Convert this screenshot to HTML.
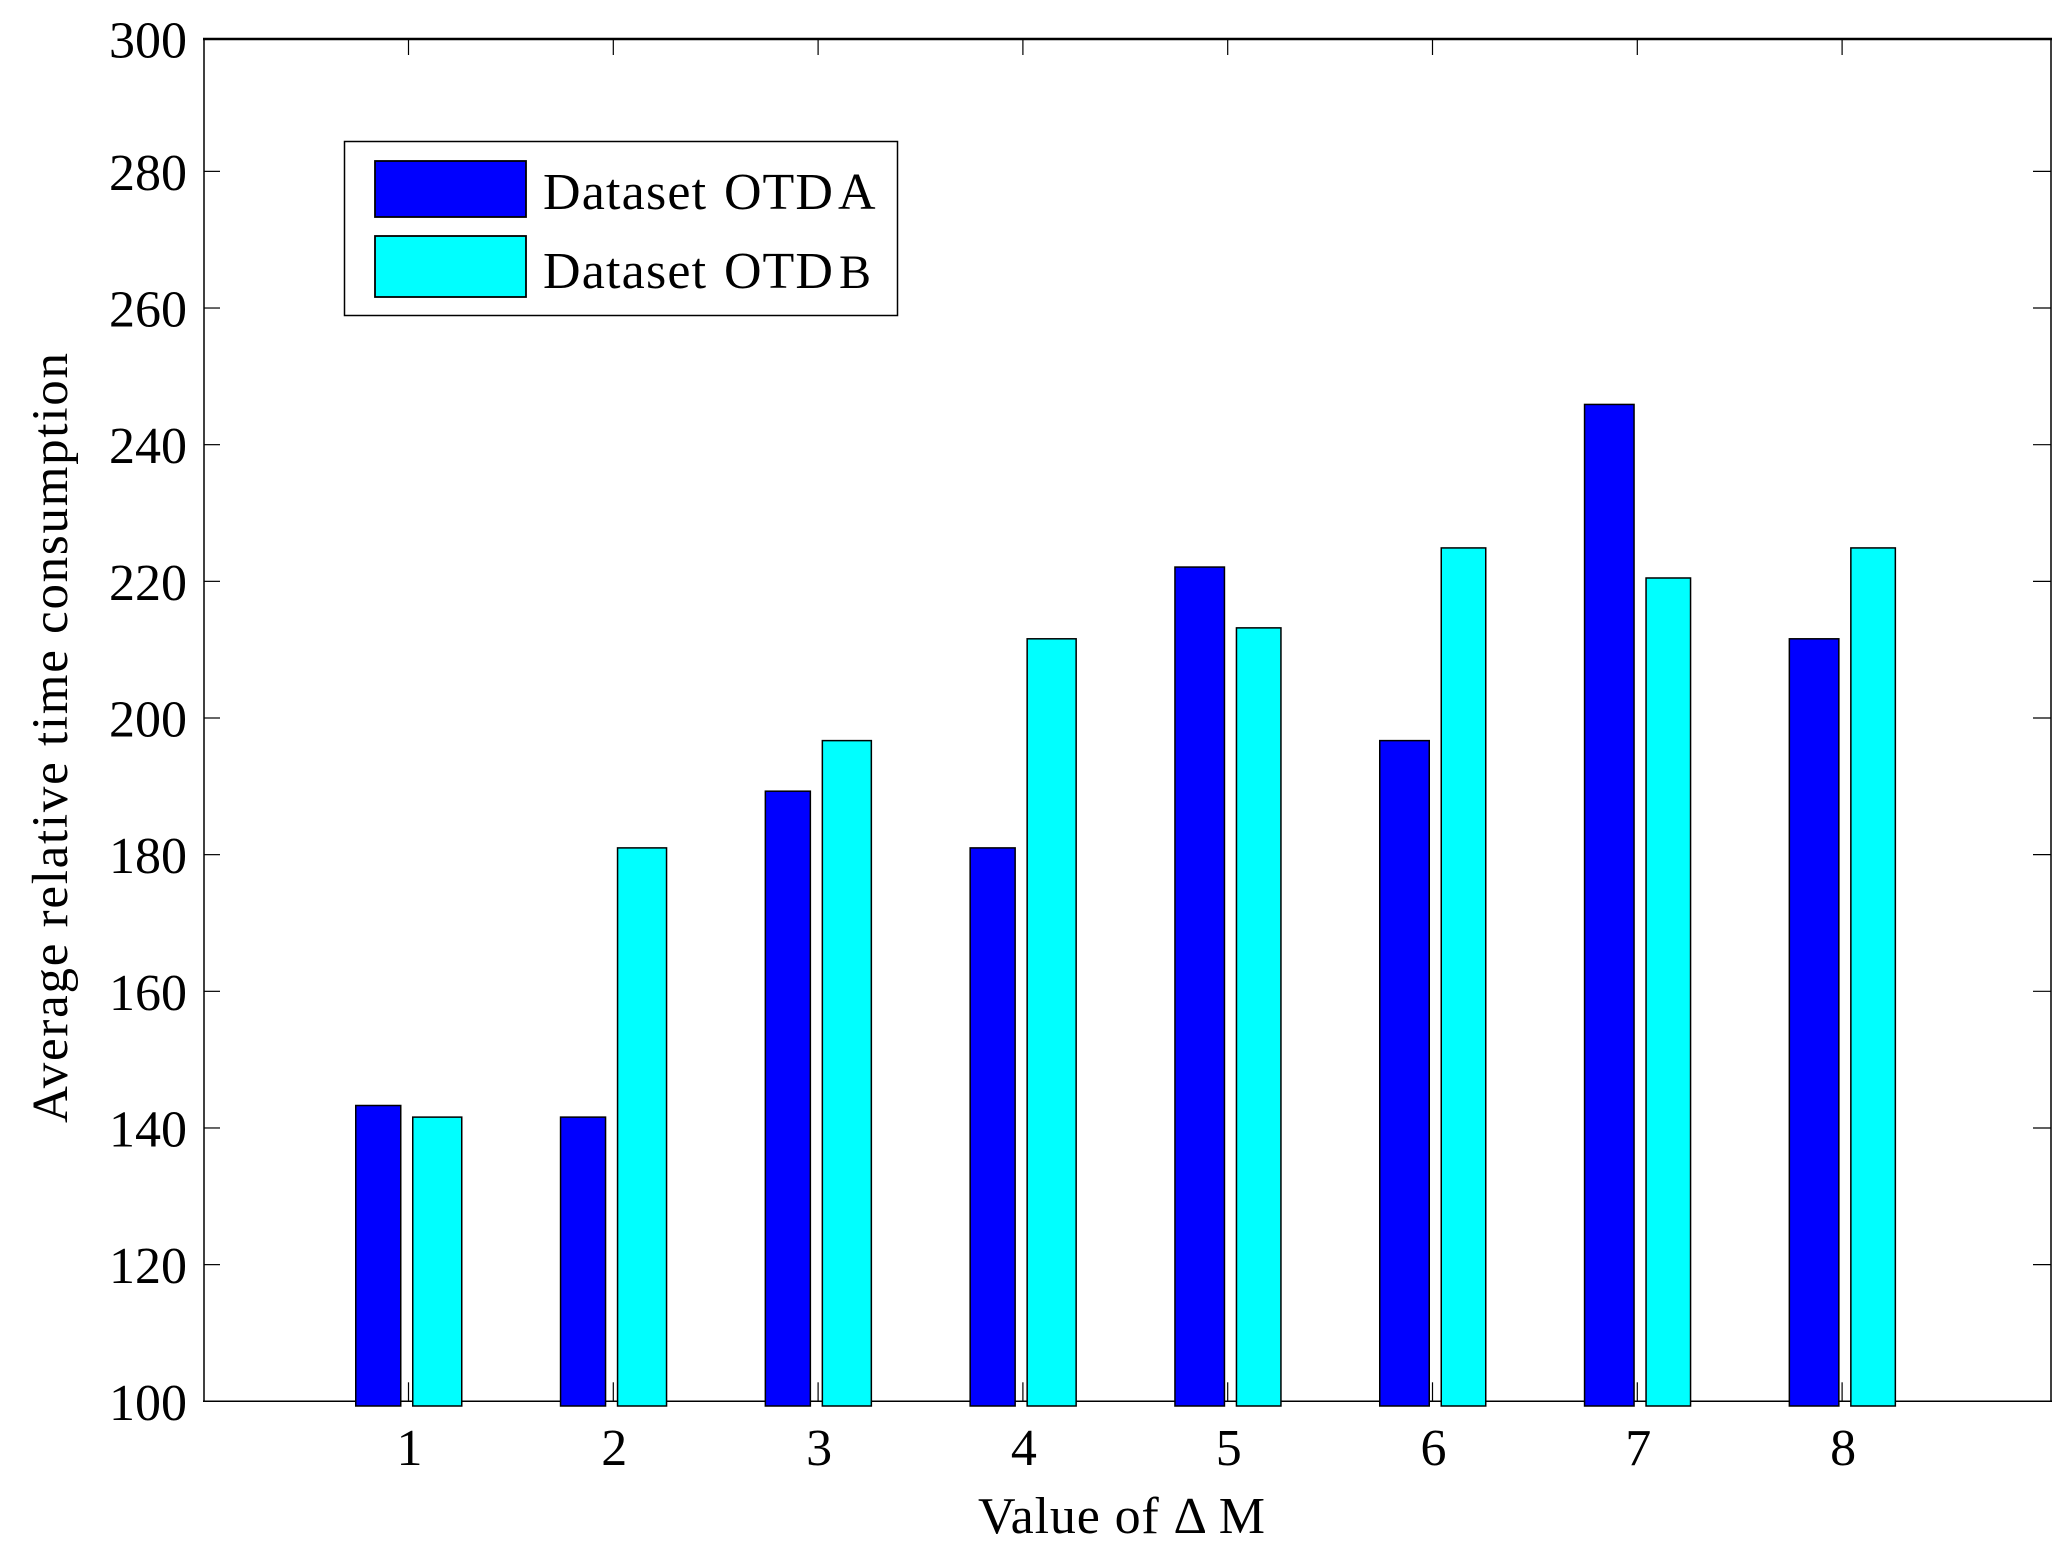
<!DOCTYPE html>
<html lang="en">
<head>
<meta charset="utf-8">
<title>Average relative time consumption</title>
<style>
html,body{margin:0;padding:0;background:#fff;width:2068px;height:1561px;overflow:hidden}
svg{display:block}
text{font-family:"Liberation Serif",serif;fill:#000}
</style>
</head>
<body>
<svg id="chart" xmlns="http://www.w3.org/2000/svg" width="2068" height="1561" viewBox="0 0 2068 1561">
  <rect x="0" y="0" width="2068" height="1561" fill="#fff"/>
  <g id="axes"></g>
  <g id="bars"></g>
  <text x="978" y="1533" font-size="52" textLength="287" lengthAdjust="spacing">Value of Δ M</text>
  <text transform="translate(67,1123) rotate(-90)" x="0" y="0" font-size="51" textLength="770" lengthAdjust="spacing">Average relative time consumption</text>
  <g>
    <rect x="344.5" y="141.5" width="553" height="174" fill="#fff" stroke="#000" stroke-width="1.5"/>
    <rect x="375" y="161" width="151" height="56" fill="#0000ff" stroke="#000" stroke-width="1.8"/>
    <text y="209" font-size="52"><tspan x="543" style="letter-spacing:1.2px">Dataset</tspan> <tspan x="724" style="letter-spacing:1px">OTD</tspan> <tspan x="838">A</tspan></text>
    <rect x="375" y="236" width="151" height="61" fill="#00ffff" stroke="#000" stroke-width="1.8"/>
    <text y="288" font-size="52"><tspan x="543" style="letter-spacing:1.2px">Dataset</tspan> <tspan x="724" style="letter-spacing:1px">OTD</tspan> <tspan x="839" font-size="48">B</tspan></text>
  </g>
</svg>
<script>
const categories = [1, 2, 3, 4, 5, 6, 7, 8];
const seriesA = [143.4, 141.7, 189.4, 181.1, 222.2, 196.8, 246.0, 211.7];
const seriesB = [141.7, 181.1, 196.8, 211.7, 213.3, 225.0, 220.6, 225.0];
const yTicks = [100, 120, 140, 160, 180, 200, 220, 240, 260, 280, 300];

const NS = 'http://www.w3.org/2000/svg';
const plotLeft = 204, plotRight = 2051, plotTop = 39, plotBottom = 1401.3;
function xScale(c) { return 408.5 + (c - 1) * 204.8; }
function yScale(v) { return plotBottom - (v - 100) * 6.833; }
const axes = document.getElementById('axes');
const bars = document.getElementById('bars');

function makeLine(x1, y1, x2, y2, w) {
  const l = document.createElementNS(NS, 'line');
  l.setAttribute('x1', x1);
  l.setAttribute('y1', y1);
  l.setAttribute('x2', x2);
  l.setAttribute('y2', y2);
  l.setAttribute('stroke', '#000');
  l.setAttribute('stroke-width', w);
  return l;
}

// axis frame
const topLine = makeLine(plotLeft - 1, plotTop, plotRight + 1, plotTop, 2.4);


axes.appendChild(topLine);
const bottomLine = makeLine(plotLeft - 1, plotBottom, plotRight + 1, plotBottom, 1.5);


axes.appendChild(bottomLine);
const leftLine = makeLine(plotLeft, plotTop, plotLeft, plotBottom, 1.5);


axes.appendChild(leftLine);
const rightLine = makeLine(plotRight, plotTop, plotRight, plotBottom, 1.5);


axes.appendChild(rightLine);

// y ticks and labels
yTicks.forEach(function (t) {
  const y = Math.max(yScale(t), plotTop);
  if (y > plotTop && y < plotBottom) {
    const tl = makeLine(plotLeft, y, plotLeft + 16, y, 1.2);
    
    
    axes.appendChild(tl);
    const tr = makeLine(plotRight - 18, y, plotRight, y, 1.2);
    
    
    axes.appendChild(tr);
  }
  const label = document.createElementNS(NS, 'text');
  
  
  label.setAttribute('x', 187);
  label.setAttribute('y', y + 18.5);
  label.setAttribute('font-size', 52);
  label.setAttribute('text-anchor', 'end');
  label.textContent = t;
  axes.appendChild(label);
});

// x ticks and labels
categories.forEach(function (c) {
  const x = xScale(c);
  const tt = makeLine(x, plotTop, x, plotTop + 16, 1.2);
  
  
  axes.appendChild(tt);
  const tb = makeLine(x, plotBottom - 19, x, plotBottom, 1.2);
  
  
  axes.appendChild(tb);
  const label = document.createElementNS(NS, 'text');
  
  
  label.setAttribute('x', x + 1);
  label.setAttribute('y', 1465);
  label.setAttribute('font-size', 52);
  label.setAttribute('text-anchor', 'middle');
  label.textContent = c;
  axes.appendChild(label);
});

// bars
function makeBar(x0, x1, v, fill) {
  const r = document.createElementNS(NS, 'rect');
  const top = yScale(v);
  r.setAttribute('x', x0 + 0.75);
  r.setAttribute('y', top + 0.75);
  r.setAttribute('width', x1 - x0 - 1.5);
  r.setAttribute('height', 1406 - top - 0.75);
  r.setAttribute('fill', fill);
  r.setAttribute('stroke', '#000');
  r.setAttribute('stroke-width', 1.5);
  return r;
}
categories.forEach(function (c, i) {
  const x = xScale(c);
  const shift = c >= 5 ? 4.5 : 0;
  const a = makeBar(x - 53.5, x - 7 + shift, seriesA[i], '#0000ff');
  
  
  bars.appendChild(a);
  const b = makeBar(x + 3.5 + shift, x + 54, seriesB[i], '#00ffff');
  
  
  bars.appendChild(b);
});
</script>
</body>
</html>
